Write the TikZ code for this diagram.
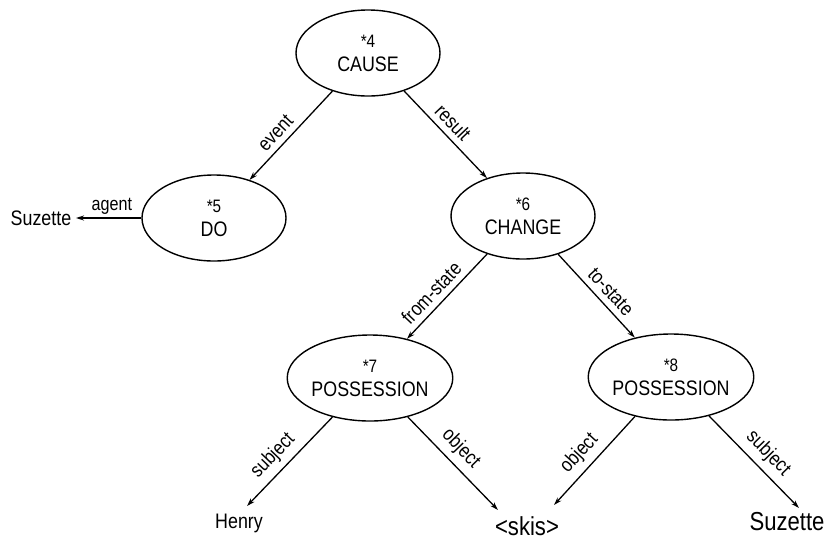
\documentclass[tikz,border=0pt]{standalone}
\usepackage{fontspec}
\setmainfont{Liberation Sans}[FakeStretch=0.85]
\usetikzlibrary{shapes.geometric,arrows.meta}
\begin{document}
\begin{tikzpicture}[x=1pt,y=1pt,
  concept/.style={ellipse,draw,line width=1.4pt,minimum width=144pt,minimum height=86pt,inner sep=0pt,align=center,font=\fontsize{21}{24}\selectfont},
  arr/.style={line width=1.3pt,-{Stealth[length=8pt,width=5pt]}},
  lbl/.style={sloped,above=5pt,inner sep=1pt,font=\fontsize{20}{21}\selectfont},
  leaf/.style={inner sep=1pt,anchor=base,font=\fontsize{21}{23}\selectfont},
  bigleaf/.style={leaf,font=\fontsize{26}{28}\selectfont}]
\useasboundingbox (0,0) rectangle (829,-539);
\newcommand{\numline}[1]{{\fontsize{18}{18}\selectfont #1}}
\node[concept] (c4) at (368,-53) {\numline{*4}\\CAUSE};
\node[concept] (c5) at (214,-218) {\numline{*5}\\DO};
\node[concept] (c6) at (523,-216) {\numline{*6}\\CHANGE};
\node[concept] (c7) at (370,-378) {\numline{*7}\\POSSESSION};
\node[concept] (c8) at (671,-377) {\numline{*8}\\POSSESSION};
\node[leaf] (suz1) at (41,-225) {Suzette};
\node[leaf] (henry) at (239,-528) {Henry};
\node[bigleaf] (skis) at (527,-535) {<skis>};
\node[bigleaf] (suz2) at (787,-530) {Suzette};
\coordinate (agenttip) at (76,-218);
\coordinate (henrytip) at (247,-506);
\coordinate (skistipa) at (498,-510);
\coordinate (skistipb) at (554,-505);
\coordinate (suztip) at (799,-508);
\draw[arr] (c4) -- node[lbl,pos=.57]{event} (c5);
\draw[arr] (c4) -- node[lbl,pos=.47]{result} (c6);
\draw[arr] (c5) -- node[above=2pt,inner sep=1pt,pos=.45,font=\fontsize{19}{20}\selectfont]{agent} (agenttip);
\draw[arr] (c6) -- node[lbl,pos=.57]{from-state} (c7);
\draw[arr] (c6) -- node[lbl,pos=.56]{to-state} (c8);
\draw[arr] (c7) -- node[lbl,pos=.56]{subject} (henrytip);
\draw[arr] (c7) -- node[lbl,pos=.46]{object} (skistipa);
\draw[arr] (c8) -- node[lbl,pos=.54]{object} (skistipb);
\draw[arr] (c8) -- node[lbl,pos=.53]{subject} (suztip);
\end{tikzpicture}
\end{document}
